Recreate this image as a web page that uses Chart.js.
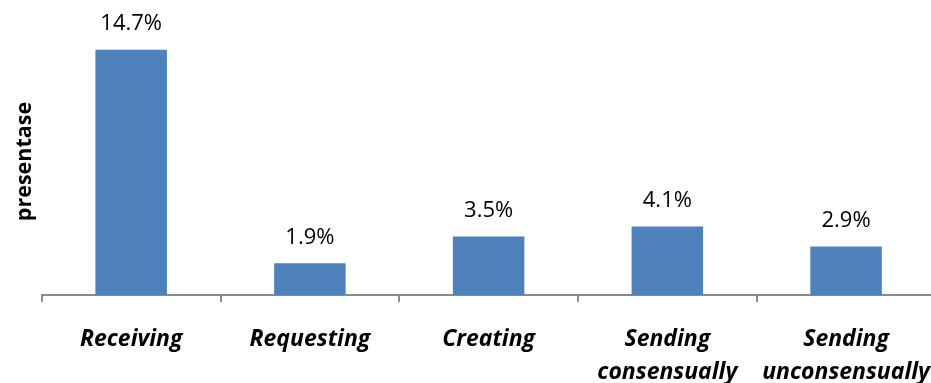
<!DOCTYPE html>
<html>
<head>
<meta charset="utf-8">
<script src="https://cdn.jsdelivr.net/npm/chart.js@4/dist/chart.umd.min.js"></script>
<style>
  html, body { margin: 0; padding: 0; background: #fff; overflow: hidden; }
  #wrap { position: relative; width: 951px; height: 410px; }
</style>
</head>
<body>
<div id="wrap"><canvas id="c"></canvas></div>
<script>
const categories = [
  'Receiving',
  'Requesting',
  'Creating',
  ['Sending', 'consensually'],
  ['Sending', 'unconsensually']
];
const values = [14.7, 1.9, 3.5, 4.1, 2.9];
const valueLabels = ['14.7%', '1.9%', '3.5%', '4.1%', '2.9%'];
const yTitle = 'presentase';

const FONT = "'Open Sans', 'Liberation Sans', sans-serif";

const valueLabelPlugin = {
  id: 'valueLabels',
  afterDatasetsDraw(chart) {
    const ctx = chart.ctx;
    const meta = chart.getDatasetMeta(0);
    ctx.save();
    ctx.font = '22px ' + FONT;
    ctx.fillStyle = '#000';
    ctx.textAlign = 'center';
    ctx.textBaseline = 'middle';
    meta.data.forEach((bar, i) => {
      ctx.fillText(valueLabels[i], bar.x, bar.y - 26);
    });
    ctx.restore();
  }
};

new Chart(document.getElementById('c'), {
  type: 'bar',
  data: {
    labels: categories,
    datasets: [{
      data: values,
      backgroundColor: '#4F81BD',
      borderWidth: 0,
      barPercentage: 0.8,
      categoryPercentage: 0.5
    }]
  },
  options: {
    responsive: true,
    maintainAspectRatio: false,
    animation: false,
    events: [],
    layout: { padding: { left: 12, top: 28, right: 0, bottom: 0 } },
    plugins: {
      legend: { display: false },
      tooltip: { enabled: false }
    },
    scales: {
      x: {
        grid: {
          display: true,
          drawOnChartArea: false,
          drawTicks: true,
          tickLength: 7,
          color: '#8A8A8A',
          lineWidth: 2
        },
        border: { display: true, color: '#8A8A8A', width: 2 },
        ticks: {
          color: '#000',
          padding: 21,
          maxRotation: 0,
          autoSkip: false,
          font: { family: FONT, size: 23, weight: 'bold', style: 'italic', lineHeight: 1.435 }
        }
      },
      y: {
        min: 0,
        max: 16,
        grid: { display: false, drawTicks: false },
        border: { display: false },
        ticks: { display: false },
        title: {
          display: true,
          text: yTitle,
          color: '#000',
          padding: { top: 0, bottom: 4 },
          font: { family: FONT, size: 21.5, weight: 'bold', lineHeight: 1.2 }
        }
      }
    }
  },
  plugins: [valueLabelPlugin]
});
</script>
</body>
</html>
